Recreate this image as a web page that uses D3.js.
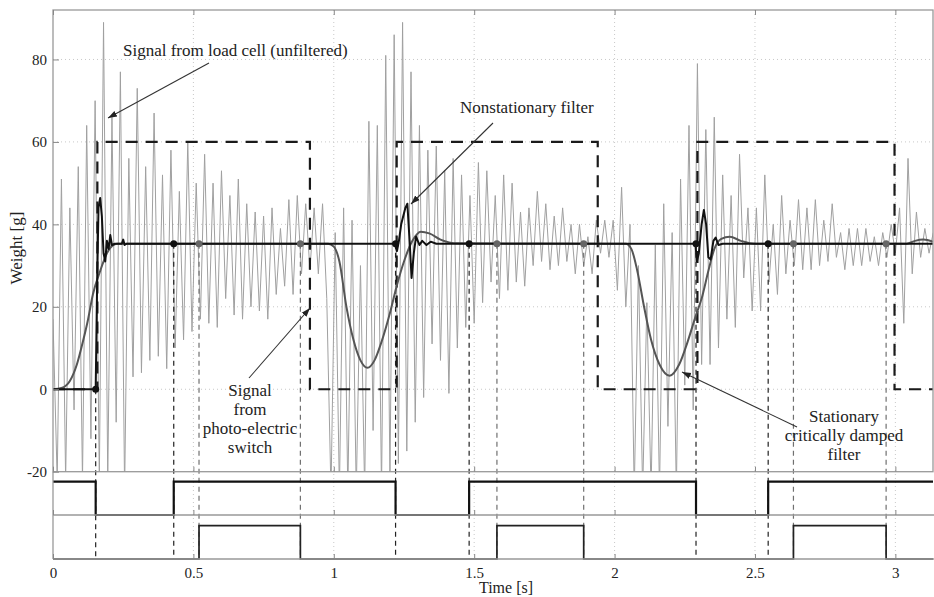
<!DOCTYPE html>
<html>
<head>
<meta charset="utf-8">
<script src="https://cdn.jsdelivr.net/npm/d3@7"></script>
<style>
body { margin: 0; background: #fff; }
svg { display: block; font-family: "Liberation Serif", "Times New Roman", serif; }
</style>
</head>
<body>
<script>
const width = 934, height = 597;
const plotLeft = 53, plotRight = 933, plotTop = 10, plotBottom = 471.7;
const xMax = 3.134;

// load cell signal, one value every 0.015 s
const signalStep = 0.015;
const signal = [
    17, -22, 51, -22, 44, -5, 54, -22, 64, -12,
    70, -22, 89, -22, 66, -8, 77, -25, 56, 3,
    73, 4, 54, 7, 67, 8, 52, 5, 58, 10,
    48, 12, 60, 14, 50, 17, 57, 16, 50, 15,
    53, 22, 47, 18, 51, 17, 45, 20, 43, 19,
    42, 17, 44, 23, 39, 25, 46, 23, 47, 28,
    45, 29, 44, 28, 45, 22, -25, 38, -25, 44,
    -25, 41, -25, 30, -25, 65, -10, 64, -25, 81,
    -22, 86, -18, 89, -15, 77, -8, 64, -2, 58,
    11, 59, 7, 53, -1, 56, 10, 52, 15, 47,
    16, 55, 21, 53, 26, 47, 22, 52, 24, 50,
    26, 43, 25, 44, 30, 48, 31, 45, 29, 42,
    30, 44, 31, 40, 28, 40, 30, 37, 28, 41,
    33, 41, 32, 41, 24, 49, 20, 40, -25, 30,
    -25, 21, -25, 35, -25, 45, -9, 38, -25, 51,
    1, 64, -5, 79, 6, 63, 6, 66, 10, 52,
    17, 47, 15, 57, 27, 44, 19, 44, 19, 52,
    26, 40, 23, 47, 28, 41, 30, 46, 29, 44,
    29, 46, 30, 41, 31, 45, 32, 38, 29, 39,
    30, 39, 30, 39, 31, 37, 30, 38, 32, 40,
    33, 44, 16, 56, 28, 43, 32, 39, 33, 38
];

const stationaryT = [0, 0.03, 0.06, 0.085, 0.107, 0.125, 0.142, 0.167, 0.196, 0.228,
    0.98, 1.0, 1.02, 1.045, 1.07, 1.095, 1.12, 1.145, 1.17, 1.2, 1.225, 1.25, 1.28, 1.31, 1.34, 1.38, 1.44,
    2.04, 2.06, 2.08, 2.105, 2.13, 2.16, 2.196, 2.23, 2.26, 2.29, 2.31, 2.335, 2.355, 2.38, 2.41, 2.45, 2.5,
    3.04, 3.07, 3.1, 3.134];
const stationaryV = [0, 0.3, 2, 6, 11.7, 17, 23, 28.5, 33.5, 35.3,
    35.3, 34.6, 31, 20, 12, 7, 5.2, 7, 11.5, 18.5, 25.3, 31, 36, 38.2, 37.8, 36.3, 35.4,
    35.3, 34, 29, 20, 12, 6, 3.3, 6, 11.5, 18, 22, 29, 34, 36.5, 37, 36, 35.3,
    35.3, 36, 36.3, 35.8];

const nonstatT = [0, 0.152, 0.157, 0.162, 0.168, 0.174, 0.18, 0.186, 0.192, 0.198, 0.204, 0.21, 0.22, 0.245, 0.25, 0.255, 0.262,
    1.217, 1.225, 1.232, 1.24, 1.255, 1.262, 1.27, 1.277, 1.285, 1.293, 1.305, 1.315, 1.33, 1.345, 1.365,
    2.288, 2.293, 2.3, 2.31, 2.318, 2.326, 2.334, 2.342, 2.352, 2.36, 2.37, 2.385, 3.134];
const nonstatV = [0, 0, 25, 44, 46.4, 42, 33, 31, 36, 34, 37.4, 35, 35.3, 35.3, 36.3, 35, 35.3,
    35.3, 33.5, 36, 40, 44, 45, 36, 27, 33, 37, 35, 36, 35, 35.8, 35.3,
    35.3, 31, 33, 40, 43.5, 40, 32, 31.5, 36, 36.8, 35, 35.3, 35.3];

// photo-electric switch signal
const switchT = [0, 0.158, 0.915, 1.224, 1.94, 2.295, 2.997];
const switchV = [0, 60, 0, 60, 0, 60, 0];

// timing diagrams
const gate1T = [0, 0.152, 0.43, 1.22, 1.482, 2.29, 2.547];
const gate1V = [1, 0, 1, 0, 1, 0, 1];
const gate2T = [0, 0.52, 0.881, 1.581, 1.89, 2.637, 2.967];
const gate2V = [0, 1, 0, 1, 0, 1, 0];

const blackEventT = [0.152, 0.43, 1.22, 1.482, 2.29, 2.547];
const blackEventV = [0, 35.3, 35.3, 35.3, 35.3, 35.3];
const grayEventT = [0.52, 0.881, 1.581, 1.89, 2.637, 2.967];
const grayEventV = [35.3, 35.3, 35.3, 35.3, 35.3, 35.3];

const xTicks = [0, 0.5, 1, 1.5, 2, 2.5, 3];
const yTicks = [-20, 0, 20, 40, 60, 80];

const svg = d3.select("body").append("svg")
    .attr("width", width)
    .attr("height", height);

const x = d3.scaleLinear().domain([0, xMax]).range([plotLeft, plotRight]);
const y = d3.scaleLinear().domain([-20, 92]).range([plotBottom, plotTop]);
const p1 = d3.scaleLinear().domain([0, 1]).range([515, 481.7]);
const p2 = d3.scaleLinear().domain([0, 1]).range([559, 525.7]);

const defs = svg.append("defs");
defs.append("clipPath").attr("id", "plot")
    .append("rect")
    .attr("x", plotLeft).attr("y", plotTop)
    .attr("width", plotRight - plotLeft).attr("height", plotBottom - plotTop);

const marker = defs.append("marker")
    .attr("id", "arrow")
    .attr("viewBox", "0 0 10 10")
    .attr("refX", 10).attr("refY", 5)
    .attr("markerWidth", 9).attr("markerHeight", 9)
    .attr("markerUnits", "userSpaceOnUse")
    .attr("orient", "auto");
marker.append("path").attr("d", "M0,1.5L10,5L0,8.5Z").attr("fill", "#222");

// grid
svg.append("g").selectAll("line")
    .data(xTicks.slice(1))
    .enter().append("line")
    .attr("x1", d => x(d)).attr("x2", d => x(d))
    .attr("y1", plotTop).attr("y2", 559)
    .attr("stroke", "#c8c8c8").attr("stroke-width", 1)
    .attr("stroke-dasharray", "1,3");
svg.append("g").selectAll("line")
    .data(yTicks.slice(1))
    .enter().append("line")
    .attr("x1", plotLeft).attr("x2", plotRight)
    .attr("y1", d => y(d)).attr("y2", d => y(d))
    .attr("stroke", "#c8c8c8").attr("stroke-width", 1)
    .attr("stroke-dasharray", "1,3");

// unfiltered signal
svg.append("path")
    .datum(signal)
    .attr("clip-path", "url(#plot)")
    .attr("fill", "none")
    .attr("stroke", "#a0a0a0")
    .attr("stroke-width", 1)
    .attr("d", d3.line().x((d, i) => x(i * signalStep)).y(d => y(d)));

// event dashed lines
svg.append("g").selectAll("line")
    .data(grayEventT)
    .enter().append("line")
    .attr("x1", d => x(d)).attr("x2", d => x(d))
    .attr("y1", (d, i) => y(grayEventV[i])).attr("y2", 559)
    .attr("stroke", "#707070").attr("stroke-width", 1.2)
    .attr("stroke-dasharray", "5,4");
svg.append("g").selectAll("line")
    .data(blackEventT)
    .enter().append("line")
    .attr("x1", d => x(d)).attr("x2", d => x(d))
    .attr("y1", (d, i) => y(blackEventV[i])).attr("y2", 559)
    .attr("stroke", "#222").attr("stroke-width", 1.2)
    .attr("stroke-dasharray", "5,4");

// photo-electric switch
const stepPoints = (T, V) => T.map((t, i) => [t, V[i]]).concat([[xMax, V[V.length - 1]]]);
svg.append("path")
    .datum(stepPoints(switchT, switchV))
    .attr("fill", "none")
    .attr("stroke", "#1a1a1a")
    .attr("stroke-width", 2.2)
    .attr("stroke-dasharray", "12,8")
    .attr("d", d3.line().curve(d3.curveStepAfter).x(d => x(d[0])).y(d => y(d[1])));

// stationary filter
svg.append("path")
    .datum(stationaryT.map((t, i) => [t, stationaryV[i]]))
    .attr("fill", "none")
    .attr("stroke", "#555")
    .attr("stroke-width", 2)
    .attr("d", d3.line().curve(d3.curveMonotoneX).x(d => x(d[0])).y(d => y(d[1])));

// nonstationary filter
svg.append("path")
    .datum(nonstatT.map((t, i) => [t, nonstatV[i]]))
    .attr("fill", "none")
    .attr("stroke", "#111")
    .attr("stroke-width", 2)
    .attr("stroke-linejoin", "round")
    .attr("d", d3.line().x(d => x(d[0])).y(d => y(d[1])));

// markers
svg.append("g").selectAll("circle")
    .data(grayEventT)
    .enter().append("circle")
    .attr("cx", d => x(d)).attr("cy", (d, i) => y(grayEventV[i]))
    .attr("r", 3.5).attr("fill", "#666");
svg.append("g").selectAll("circle")
    .data(blackEventT)
    .enter().append("circle")
    .attr("cx", d => x(d)).attr("cy", (d, i) => y(blackEventV[i]))
    .attr("r", 3.5).attr("fill", "#111");

// timing panels
svg.append("path")
    .datum(stepPoints(gate1T, gate1V))
    .attr("fill", "none").attr("stroke", "#111").attr("stroke-width", 2.2)
    .attr("d", d3.line().curve(d3.curveStepAfter).x(d => x(d[0])).y(d => p1(d[1])));
svg.append("path")
    .datum(stepPoints(gate2T, gate2V))
    .attr("fill", "none").attr("stroke", "#222").attr("stroke-width", 1.7)
    .attr("d", d3.line().curve(d3.curveStepAfter).x(d => x(d[0])).y(d => p2(d[1])));

// frame and axes
svg.append("rect")
    .attr("x", plotLeft).attr("y", plotTop)
    .attr("width", plotRight - plotLeft).attr("height", plotBottom - plotTop)
    .attr("fill", "none").attr("stroke", "#999").attr("stroke-width", 1.3);
svg.append("line")
    .attr("x1", plotLeft).attr("x2", plotLeft).attr("y1", plotBottom).attr("y2", 559)
    .attr("stroke", "#999").attr("stroke-width", 1.3);
[515, 559].forEach(v => {
    svg.append("line")
        .attr("x1", plotLeft).attr("x2", width).attr("y1", v).attr("y2", v)
        .attr("stroke", "#999").attr("stroke-width", 1.3);
});

const styleAxis = g => {
    g.select(".domain").remove();
    g.selectAll(".tick line").attr("stroke", "#888");
    g.selectAll(".tick text").attr("fill", "#222").style("font-size", "15px")
        .style("font-family", "'Liberation Serif', 'Times New Roman', serif");
};

svg.append("g")
    .attr("transform", "translate(0," + 559 + ")")
    .call(d3.axisBottom(x).tickValues(xTicks).tickSize(-5).tickPadding(8).tickFormat(d => String(d)))
    .call(styleAxis);
[plotTop, plotBottom, 515].forEach(v => {
    svg.append("g")
        .attr("transform", "translate(0," + v + ")")
        .call(d3.axisBottom(x).tickValues(xTicks).tickSize(v === plotTop ? 5 : -5).tickFormat(""))
        .call(styleAxis);
});
svg.append("g")
    .attr("transform", "translate(" + plotLeft + ",0)")
    .call(d3.axisLeft(y).tickValues(yTicks).tickSize(-6).tickPadding(6).tickFormat(d => String(d)))
    .call(styleAxis);

svg.append("text")
    .attr("x", 506).attr("y", 593)
    .attr("text-anchor", "middle")
    .style("font-size", "16px").attr("fill", "#222")
    .text("Time [s]");
svg.append("text")
    .attr("transform", "translate(22,248) rotate(-90)")
    .attr("text-anchor", "middle")
    .style("font-size", "17px").attr("fill", "#222")
    .text("Weight [g]");

// annotations
const note = (lines, cx, y0, anchor) => {
    lines.forEach((s, i) => {
        svg.append("text")
            .attr("x", cx).attr("y", y0 + i * 19)
            .attr("text-anchor", anchor)
            .style("font-size", "17px").attr("fill", "#222")
            .text(s);
    });
};
const arrow = (x1, y1, x2, y2) => {
    svg.append("line")
        .attr("x1", x1).attr("y1", y1).attr("x2", x2).attr("y2", y2)
        .attr("stroke", "#333").attr("stroke-width", 1.1)
        .attr("marker-end", "url(#arrow)");
};

note(["Signal from load cell (unfiltered)"], 123, 56, "start");
arrow(209, 63, 108, 118);
note(["Nonstationary filter"], 460, 113, "start");
arrow(493, 123, 411, 204);
note(["Signal", "from", "photo-electric", "switch"], 250, 396, "middle");
arrow(249, 378, 310, 308);
note(["Stationary", "critically damped", "filter"], 844, 422, "middle");
arrow(797, 427, 682, 372);
</script>
</body>
</html>
